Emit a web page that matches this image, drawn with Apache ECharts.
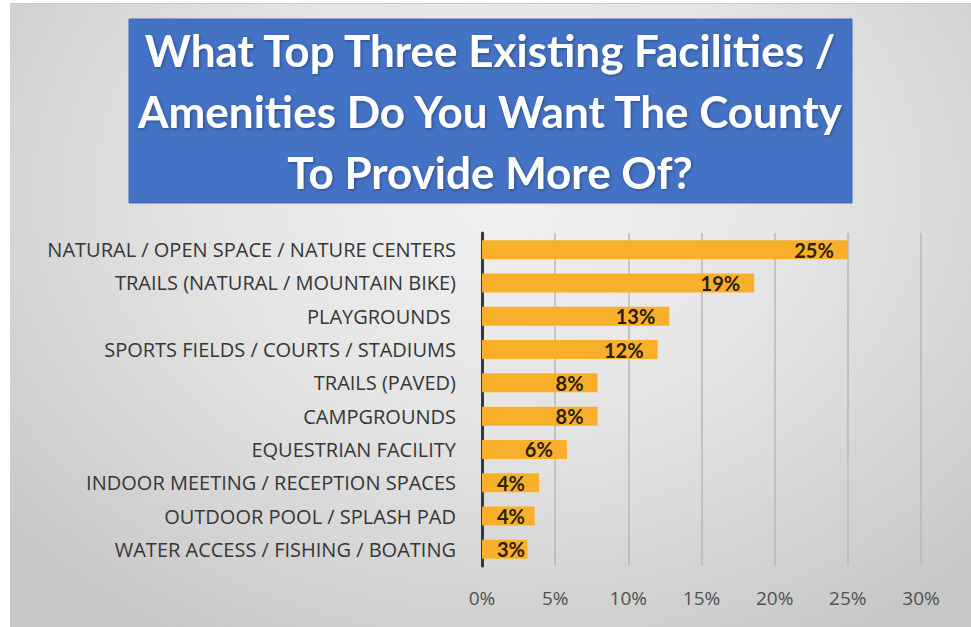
<!DOCTYPE html>
<html>
<head>
<meta charset="utf-8">
<title>Facilities / Amenities Survey</title>
<script src="https://cdn.jsdelivr.net/npm/echarts@6/dist/echarts.min.js"></script>
<style>
  html, body { margin: 0; padding: 0; background: #ffffff; }
  #wrap { position: relative; width: 971px; height: 627px; overflow: hidden; background: #ffffff; }
  #panel {
    position: absolute; left: 10px; top: 3px; width: 961px; height: 623px;
    background: radial-gradient(ellipse 70% 85% at 52% 30%, #f1f1f1 0%, #e4e4e4 45%, #cfcfcf 85%, #c6c6c6 100%);
    border-top: 1px solid #c9c9c9;
  }
  #chart { position: absolute; left: 0; top: 0; width: 971px; height: 627px; }
</style>
</head>
<body>
<div id="wrap">
  <div id="panel"></div>
  <div id="chart"></div>
</div>
<script>
// Survey question shown in the banner
const titleLines = [
  'What Top Three Existing Facilities /',
  'Amenities Do You Want The County',
  'To Provide More Of?'
];

// Facility / amenity categories, top to bottom
const categories = [
  'NATURAL / OPEN SPACE / NATURE CENTERS',
  'TRAILS (NATURAL / MOUNTAIN BIKE)',
  'PLAYGROUNDS ',
  'SPORTS FIELDS / COURTS / STADIUMS',
  'TRAILS (PAVED)',
  'CAMPGROUNDS',
  'EQUESTRIAN FACILITY',
  'INDOOR MEETING / RECEPTION SPACES',
  'OUTDOOR POOL / SPLASH PAD',
  'WATER ACCESS / FISHING / BOATING'
];

// Share of respondents choosing each item (percent)
const shares = [25.0, 18.6, 12.8, 12.0, 7.9, 7.9, 5.8, 3.9, 3.6, 3.1];

// Value axis ticks (percent)
const axisMin = 0;
const axisMax = 30;
const axisStep = 5;

const barColor = '#F8B02A';
const titleFont = 'Lato, "Open Sans", sans-serif';
const textFont = '"Open Sans", Lato, sans-serif';

// Short bars carry their label from the left edge instead of the bar end
const barData = shares.map(function (v) {
  const small = v < 5;
  return {
    value: v,
    label: small
      ? { position: 'insideLeft', distance: 15 }
      : { position: 'insideRight', distance: 14 }
  };
});

const chart = echarts.init(document.getElementById('chart'), null, { renderer: 'svg' });

chart.setOption({
  backgroundColor: 'transparent',
  animation: false,
  title: {
    text: titleLines.join('\n'),
    left: 490,
    top: 19,
    padding: 0,
    textAlign: 'center',
    textStyle: {
      color: '#ffffff',
      fontFamily: titleFont,
      fontWeight: 'bold',
      fontSize: 44,
      lineHeight: 61,
      textShadowColor: 'rgba(0,0,0,0.35)',
      textShadowBlur: 3,
      textShadowOffsetX: 1,
      textShadowOffsetY: 1
    }
  },
  graphic: [{
    type: 'rect',
    z: -1,
    shape: { x: 129, y: 19, width: 723, height: 184 },
    style: { fill: '#4472C4', stroke: '#3d68b6', lineWidth: 1 }
  }],
  grid: {
    left: 482,
    right: 50,
    top: 233,
    bottom: 61,
    containLabel: false,
    outerBoundsMode: 'none'
  },
  xAxis: {
    type: 'value',
    min: axisMin,
    max: axisMax,
    interval: axisStep,
    axisLine: { show: false },
    axisTick: { show: false },
    axisLabel: {
      color: '#505050',
      fontFamily: textFont,
      fontSize: 19,
      margin: 22,
      formatter: function (v) { return v + '%'; }
    },
    splitLine: {
      show: true,
      lineStyle: { color: '#b9b9b9', width: 1.5 }
    }
  },
  yAxis: {
    type: 'category',
    data: categories,
    inverse: true,
    axisLine: { show: true, lineStyle: { color: '#2f3a48', width: 3 } },
    axisTick: { show: false },
    axisLabel: {
      color: '#363636',
      fontFamily: textFont,
      fontSize: 20,
      margin: 26
    },
    splitLine: { show: false }
  },
  series: [{
    type: 'bar',
    data: barData,
    barWidth: 19,
    itemStyle: { color: barColor },
    label: {
      show: true,
      color: '#2b2105',
      fontFamily: titleFont,
      fontWeight: 'bold',
      fontSize: 20,
      formatter: function (p) { return Math.round(p.value) + '%'; }
    }
  }]
});
</script>
</body>
</html>
